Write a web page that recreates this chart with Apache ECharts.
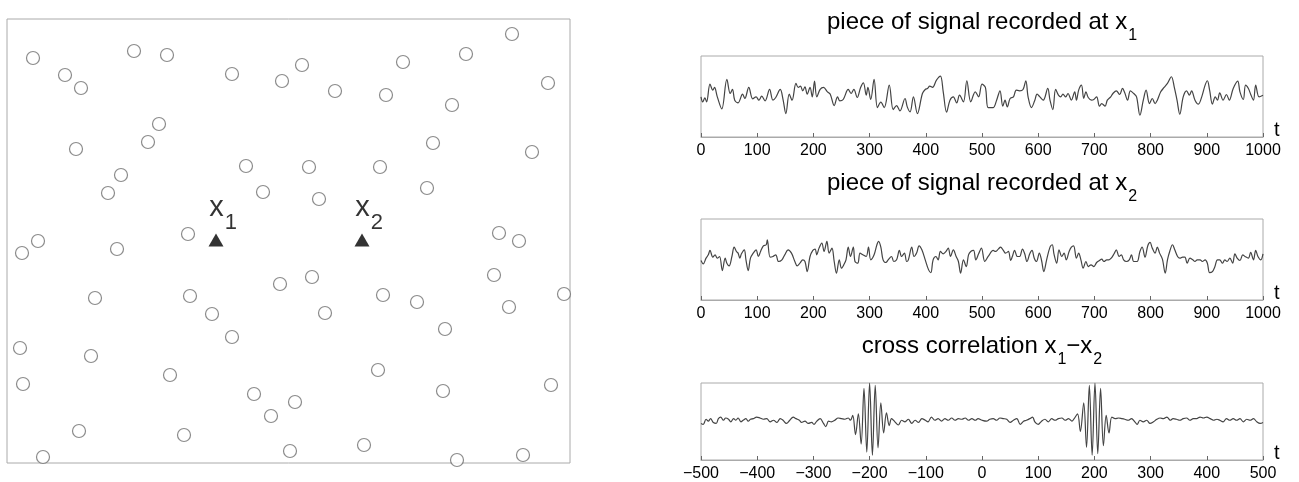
<!DOCTYPE html>
<html>
<head>
<meta charset="utf-8">
<script src="https://cdn.jsdelivr.net/npm/echarts@6/dist/echarts.min.js"></script>
<style>
html, body { margin: 0; padding: 0; background: #fff; }
#main { width: 1299px; height: 482px; }
</style>
</head>
<body>
<div id="main"></div>
<script>
// noise sources (map units, origin bottom-left of the box)
const srcX = [26, 127, 160, 58, 74, 225, 275, 295, 152, 141, 69, 114, 101, 239, 302, 256, 312, 181, 396, 459, 505, 541, 328, 379, 445, 426, 525, 373, 420, 492, 512, 31, 15, 110, 88, 183, 205, 225, 273, 305, 318, 13, 84, 16, 163, 247, 288, 264, 72, 177, 36, 283, 376, 410, 487, 502, 557, 438, 371, 436, 544, 357, 450, 516]
const srcY = [405, 412, 408, 388, 375, 389, 382, 398, 339, 321, 314, 288, 270, 297, 296, 271, 264, 229, 401, 409, 429, 380, 372, 368, 358, 320, 311, 296, 275, 230, 222, 222, 210, 214, 165, 167, 149, 126, 179, 186, 150, 115, 107, 79, 88, 69, 61, 47, 32, 28, 6, 12, 168, 161, 188, 156, 169, 134, 93, 72, 78, 18, 3, 8]
// receivers
const recX = [209, 355]
const recY = [223, 223]
const recName = ['1', '2']

// signal recorded at x1 (time, amplitude)
const sig1Time = [0, 3, 7, 10, 16, 21, 24, 29, 37, 46, 52, 56, 60, 66, 74, 78, 85, 92, 98, 103, 108, 114, 122, 128, 133, 141, 146, 151, 157, 162, 169, 173, 177, 181, 185, 189, 194, 198, 202, 206, 212, 218, 225, 230, 237, 243, 247, 253, 262, 267, 272, 278, 284, 289, 294, 297, 302, 308, 314, 320, 326, 335, 342, 348, 354, 363, 367, 372, 378, 385, 394, 399, 403, 407, 412, 419, 426, 431, 437, 443, 449, 455, 460, 467, 473, 480, 488, 494, 500, 506, 511,
  520, 526, 532, 537, 541, 545, 550, 556, 561, 567, 573, 578, 582, 588, 594, 598, 603, 609, 617, 621, 626, 631, 636, 640, 644, 649, 653, 659, 665, 668, 672, 677, 681, 685, 689, 695, 699, 704, 709, 713, 719, 723, 729, 733, 739, 745, 750, 754, 759, 764, 770, 775, 781, 787, 792, 798, 803, 808, 812, 818, 824, 830, 837, 842, 847, 852, 858, 864, 869, 873, 879, 885, 891, 897, 901, 905, 910, 915, 919, 923, 929, 935, 940, 947, 955, 959, 965, 969, 974, 978, 983, 987, 993, 1000]
const sig1Amp = [-1, -16, -4, -16, 37, 19, 27, -1, -37, 51, 9, 21, -11, -19, 7, -6, 27, -7, -1, -11, 1, -13, 21, -11, -3, 21, -9, -51, 7, -11, 39, 27, 31, 17, 29, 7, 27, -1, 46, -1, 21, 27, 14, 7, -27, -1, -13, -9, 21, 9, 21, -3, 27, 41, 4, 27, -9, 51, -33, -17, -33, 34, -39, -27, -43, -6, -31, -46, -1, -51, 9, 21, 24, 31, 27, 49, 61, 14, -47, -11, -1, -19, 4, -16, 47, -16, 14, -1, 37, 27, -33,
  -33, -11, 17, -29, -11, -31, -6, -1, 19, 17, 21, 47, -1, -33, -11, 7, -1, -11, 24, -11, -39, 21, 4, -1, 7, -1, 9, -11, 14, -11, 19, 34, -6, 14, -3, -11, -9, -1, -29, -21, -29, -11, -1, 9, 17, 6, 24, 11, -11, 17, 9, -1, -56, -11, 19, -21, -6, -21, -11, 14, 27, 39, 59, 29, -11, -53, -1, 17, 4, 17, -11, -23, -1, 34, 47, 19, -23, -1, -11, 11, -11, 6, -11, 24, 46, 14, -9, 34, 24, 7, -11, 34, -1, 4]

// signal recorded at x2
const sig2Time = [0, 4, 9, 13, 16, 21, 25, 29, 33, 38, 43, 46, 50, 55, 59, 63, 66, 69, 72, 77, 80, 84, 88, 93, 98, 102, 106, 111, 116, 118, 123, 128, 133, 138, 144, 149, 155, 161, 167, 171, 176, 181, 185, 189, 194, 199, 203, 206, 210, 215, 219, 224, 228, 233, 237, 241, 246, 250, 254, 258, 262, 266, 271, 274, 279, 283, 288, 294, 298, 302, 308, 313, 316, 320, 324, 329, 333, 339, 343, 348, 353, 357, 362, 366, 369, 375, 379, 384, 388, 393, 399, 405, 409, 413, 418, 422, 426, 431, 436, 440, 444, 449, 454, 458, 462, 467, 472, 476, 480, 485, 489, 494, 499, 505, 511,
  520, 524, 529, 533, 538, 542, 547, 551, 554, 558, 563, 567, 572, 576, 580, 585, 589, 593, 597, 602, 606, 610, 615, 621, 625, 628, 633, 637, 642, 646, 650, 655, 659, 663, 668, 672, 676, 680, 685, 689, 694, 699, 704, 709, 713, 717, 722, 726, 730, 735, 739, 744, 748, 752, 757, 762, 766, 770, 776, 781, 785, 790, 795, 799, 803, 808, 812, 816, 821, 826, 830, 834, 839, 843, 848, 852, 857, 861, 865, 870, 875, 879, 883, 888, 892, 897, 901, 905, 910, 914, 919, 923, 928, 932, 936, 941, 946, 950, 954, 959, 964, 968, 974, 978, 983, 987, 991, 996, 1000]
const sig2Amp = [-3, -13, 4, 14, 27, 7, 14, 4, 9, -33, 4, -11, -19, 9, 37, 24, 19, 4, 17, 29, -1, -33, 4, 19, 29, 9, 24, 41, 44, 59, 7, 9, 14, -6, -1, 14, 29, 19, -6, -19, -11, -1, -6, -36, 9, 27, 31, 14, 34, 49, 24, 54, 19, 34, -6, -41, -1, -26, -16, -1, 37, 9, 37, -6, -11, 19, 14, 9, 37, -1, 14, 44, 54, 37, -1, -9, -1, 9, -6, -1, 27, 9, 19, -6, -1, 37, 9, 21, 41, 29, -1, -31, -39, -1, 9, -1, 24, 17, 24, 34, 9, 29, 9, -6, -41, -1, -21, 14, 24, 27, -1, 17, 34, -6, 9,
  27, 24, 31, 37, 27, 19, 24, -3, 9, 27, 9, 9, 31, 17, -6, 17, 27, 4, -6, 19, -3, -36, -1, 37, 44, 17, -11, 29, 9, 19, -1, 24, 37, 41, 4, 19, -1, -26, -6, -21, -16, -21, -9, -3, 1, -6, -1, -1, 4, 17, 29, 9, 14, -1, -6, -1, 14, -6, -6, 24, 37, 7, 41, 51, 34, 19, 37, 19, 1, -41, -1, 24, 44, 29, 9, 4, 7, 7, -11, 4, -1, -6, -1, -1, -6, -1, -11, -39, -36, -23, -1, -1, -11, -1, -6, 4, -11, 17, 4, -3, 14, 9, 4, 21, -1, 27, 9, -1, 17]

// cross correlation x1-x2 (lag, amplitude)
const xcorrLag = [-500, -496, -491, -487, -483, -478, -473, -469, -465, -460, -456, -451, -447, -442, -438, -434, -429, -425, -420, -416, -412, -407, -401, -395, -389, -383, -377, -371, -365, -359, -354, -348, -342, -336, -331, -325, -321, -315, -309, -303, -299, -294, -288, -282, -278, -273, -268, -262, -256, -250, -244, -238, -234,
  -230, -225, -220, -215, -210, -205, -200, -195, -190, -185, -180, -175, -170, -165, -161,
  -155, -149, -143, -137, -131, -125, -119, -113, -107, -101, -96, -90, -84, -78, -72, -66, -60, -54, -48, -42, -36, -30, -24, -18, -12, -7, 0,
  8, 14, 20, 26, 32, 38, 44, 50, 56, 62, 68, 74, 79, 85, 90, 94, 100, 106, 112, 118, 124, 130, 136, 142, 148, 154, 160, 164,
  170, 175, 181, 186, 191, 196, 201, 206, 211, 216, 221, 226, 231,
  237, 243, 249, 254, 260, 266, 272, 276, 281, 287, 293, 299, 305, 311, 317, 323, 329, 335, 340, 346, 352, 358, 364, 370, 376, 382, 388, 394, 400, 406, 412, 418, 423, 429, 435, 441, 447, 453, 459, 465, 471, 477, 483, 489, 495, 500]
const xcorrAmp = [-6, -9, 7, 1, 9, -3, -6, 9, 14, 4, 11, 7, -1, 9, 4, 11, -1, 4, 9, 1, 7, 9, 14, 11, 7, 9, -1, 4, -3, 9, 4, -6, 4, 14, 9, 4, -3, 1, -6, -3, -9, 1, 9, -6, -16, 1, -1, 4, 11, 9, 7, 11, 4,
  19, -41, 24, -71, 104, -96, 121, -106, 114, -83, 59, -36, 27, -13, 9,
  -1, -11, 4, -1, 7, -6, 4, -3, 9, 4, -1, 14, 4, 9, 1, 9, 4, 11, 4, 9, 7, 11, 4, 9, 4, 9, 4,
  1, 7, 9, 4, 11, 9, 7, -3, 4, 9, -9, 1, 4, 9, 14, -1, -9, 1, 7, -1, 9, 4, 9, 11, 4, 9, 1, 9,
  24, -31, 59, -81, 114, -106, 121, -101, 104, -76, 19, -36, 14,
  9, 11, 9, 7, 4, 9, -1, -9, 4, -1, 4, -6, -1, 7, 11, 9, 14, 4, 9, 7, 4, 9, 11, 4, 9, 9, 14, 11, 14, 9, 4, 7, 4, -1, 9, 4, 9, 4, 9, -1, 7, 4, 9, -1, -6, -3]

const zip = (a, b) => a.map((t, i) => [t, b[i]])

const FONT = '"Liberation Sans", Arial, Helvetica, sans-serif'
const TXT = '#000'
const BOX = '#aaa'
const LINE = '#444'

const subRich = (big, small, pad) => ({
  a: { fontFamily: FONT, fontSize: big, fontWeight: 'normal', lineHeight: big + 2, color: TXT, verticalAlign: 'top' },
  b: { fontFamily: FONT, fontSize: small, fontWeight: 'normal', lineHeight: small, color: TXT, verticalAlign: 'top', padding: [pad, 0, 0, 1] }
})

const panelX = (idx, min, max) => ({
  type: 'value', gridIndex: idx, min: min, max: max, interval: 100,
  name: 't', nameLocation: 'end', nameGap: 11, nameMoveOverlap: false,
  nameTextStyle: { fontFamily: FONT, fontSize: 20, color: TXT, verticalAlign: 'bottom', lineHeight: 14 },
  axisLine: { show: true, onZero: false, lineStyle: { color: BOX, width: 1 } },
  axisTick: { show: true, inside: true, length: 4, lineStyle: { color: '#666' } },
  axisLabel: {
    margin: 6, fontFamily: FONT, fontSize: 16, color: TXT,
    formatter: v => String(v).replace('-', '\u2212')
  },
  splitLine: { show: false }
})
const panelY = idx => ({ type: 'value', gridIndex: idx, min: -121, max: 121, show: false })

const lineSeries = (idx, data) => ({
  type: 'line', xAxisIndex: idx, yAxisIndex: idx, data: data,
  showSymbol: false, smooth: 0.35, clip: true,
  lineStyle: { color: LINE, width: 1.2 }
})

const chart = echarts.init(document.getElementById('main'))
const option = {
  animation: false,
  backgroundColor: '#fff',
  title: [
    { text: '{a|piece of signal recorded at x}{b|1}', left: 982, top: 10, textAlign: 'center', padding: 0,
      textStyle: { fontWeight: 'normal', rich: subRich(24, 16, 18) } },
    { text: '{a|piece of signal recorded at x}{b|2}', left: 982, top: 171, textAlign: 'center', padding: 0,
      textStyle: { fontWeight: 'normal', rich: subRich(24, 16, 18) } },
    { text: '{a|cross correlation x}{b|1}{a|\u2212x}{b|2}', left: 982, top: 334, textAlign: 'center', padding: 0,
      textStyle: { fontWeight: 'normal', rich: subRich(24, 16, 18) } }
  ],
  grid: [
    { left: 7, top: 19, width: 563, height: 444, show: true, borderColor: BOX, borderWidth: 1 },
    { left: 701, top: 56, width: 562, height: 81, show: true, borderColor: BOX, borderWidth: 1 },
    { left: 701, top: 219, width: 562, height: 81, show: true, borderColor: BOX, borderWidth: 1 },
    { left: 701, top: 383, width: 562, height: 80, show: true, borderColor: BOX, borderWidth: 1 }
  ],
  xAxis: [
    { type: 'value', gridIndex: 0, min: 0, max: 563, show: false },
    panelX(1, 0, 1000),
    panelX(2, 0, 1000),
    panelX(3, -500, 500)
  ],
  yAxis: [
    { type: 'value', gridIndex: 0, min: 0, max: 444, show: false },
    panelY(1), panelY(2), panelY(3)
  ],
  series: [
    {
      type: 'scatter', xAxisIndex: 0, yAxisIndex: 0, clip: false,
      data: zip(srcX, srcY),
      symbol: 'circle', symbolSize: 13,
      itemStyle: { color: '#fff', borderColor: '#6e6e6e', borderWidth: 1.2 }
    },
    {
      type: 'scatter', xAxisIndex: 0, yAxisIndex: 0, clip: false,
      data: recX.map((x, i) => ({ value: [x, recY[i]], name: recName[i] })),
      symbol: 'triangle', symbolSize: [15, 13],
      itemStyle: { color: '#000' },
      label: {
        show: true, position: 'inside', offset: [7, -31],
        formatter: p => '{a|x}{b|' + p.name + '}',
        rich: subRich(29, 22, 18)
      }
    },
    lineSeries(1, zip(sig1Time, sig1Amp)),
    lineSeries(2, zip(sig2Time, sig2Amp)),
    lineSeries(3, zip(xcorrLag, xcorrAmp))
  ]
}
chart.setOption(option)
</script>
</body>
</html>
